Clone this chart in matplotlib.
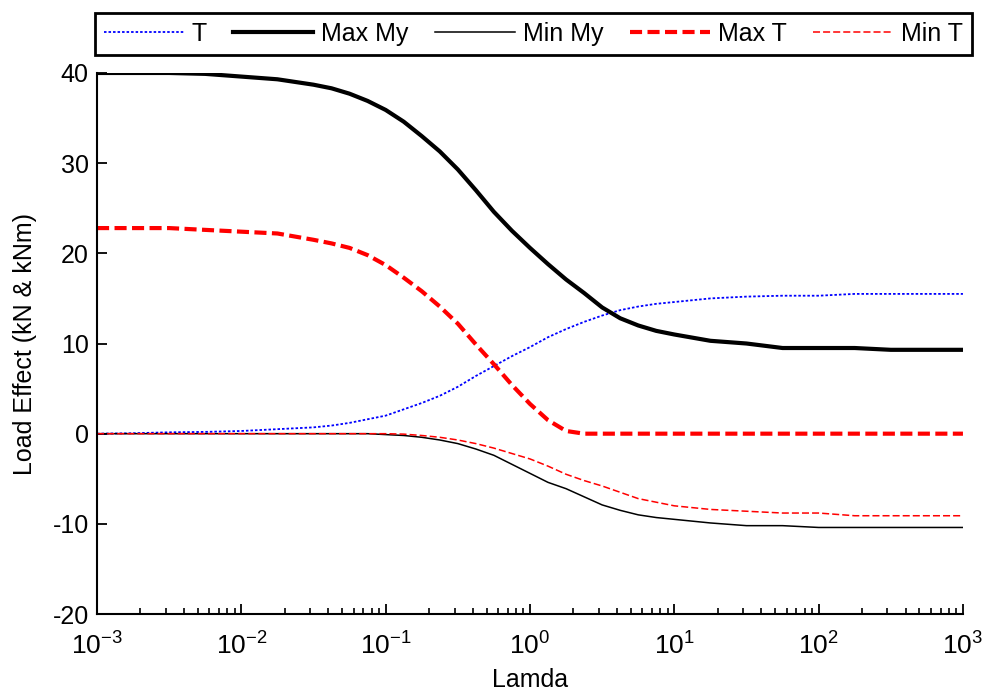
import numpy as np
import matplotlib
matplotlib.use('Agg')
import matplotlib.pyplot as plt
from matplotlib.ticker import LogLocator, FixedLocator

plt.rcParams['font.family'] = ['Liberation Sans', 'DejaVu Sans']
plt.rcParams['axes.unicode_minus'] = False

# lambda grid (log10 positions)
log_lam = [-3, -2.75, -2.5, -2.25, -2, -1.75, -1.5, -1.375, -1.25, -1.125, -1,
           -0.875, -0.75, -0.625, -0.5, -0.375, -0.25, -0.125, 0,
           0.125, 0.25, 0.375, 0.5, 0.625, 0.75, 0.875, 1,
           1.25, 1.5, 1.75, 2, 2.25, 2.5, 2.75, 3]
lam = [10 ** v for v in log_lam]

T = [0, 0.05, 0.15, 0.2, 0.3, 0.5, 0.7, 0.9, 1.2, 1.6, 2.0,
     2.7, 3.4, 4.2, 5.2, 6.4, 7.5, 8.6, 9.6,
     10.7, 11.6, 12.4, 13.1, 13.7, 14.1, 14.4, 14.6,
     15.0, 15.2, 15.3, 15.3, 15.5, 15.5, 15.5, 15.5]
max_my = [40, 40, 40, 39.9, 39.6, 39.3, 38.7, 38.3, 37.7, 36.9, 35.9,
          34.6, 33.0, 31.3, 29.3, 27.0, 24.6, 22.5, 20.6,
          18.8, 17.1, 15.6, 14.0, 12.8, 12.0, 11.4, 11.0,
          10.3, 10.0, 9.5, 9.5, 9.5, 9.3, 9.3, 9.3]
min_my = [0, 0, 0, 0, 0, 0, 0, 0, 0, 0, -0.1,
          -0.2, -0.4, -0.7, -1.1, -1.7, -2.4, -3.4, -4.4,
          -5.4, -6.1, -7.0, -7.9, -8.5, -9.0, -9.3, -9.5,
          -9.9, -10.2, -10.2, -10.4, -10.4, -10.4, -10.4, -10.4]
max_t = [22.8, 22.8, 22.8, 22.6, 22.4, 22.2, 21.5, 21.1, 20.6, 19.8, 18.7,
         17.3, 15.8, 14.1, 12.2, 9.9, 7.7, 5.4, 3.3,
         1.5, 0.3, 0, 0, 0, 0, 0, 0,
         0, 0, 0, 0, 0, 0, 0, 0]
min_t = [0, 0, 0, 0, 0, 0, 0, 0, 0, 0, 0,
         -0.05, -0.2, -0.4, -0.7, -1.1, -1.6, -2.2, -2.8,
         -3.6, -4.5, -5.2, -5.8, -6.5, -7.2, -7.6, -8.0,
         -8.4, -8.6, -8.8, -8.8, -9.1, -9.1, -9.1, -9.1]

fig = plt.figure(figsize=(9.84, 6.95), dpi=100)
ax = fig.add_axes([0.0986, 0.1165, 0.88, 0.7785])

ax.plot(lam, T, color='#0000ff', lw=1.3, dashes=(1.4, 1.1), label='T')
ax.plot(lam, max_my, color='black', lw=3.0, label='Max My')
ax.plot(lam, min_my, color='black', lw=1.1, label='Min My')
ax.plot(lam, max_t, color='#ff0000', lw=3.0, dashes=(2.9, 1.3), label='Max T')
ax.plot(lam, min_t, color='#ff0000', lw=1.1, dashes=(4.6, 2.0), label='Min T')

ax.set_xscale('log')
ax.set_xlim(1e-3, 1e3)
ax.set_ylim(-20, 40)
ax.set_yticks([-20, -10, 0, 10, 20, 30, 40])
ax.xaxis.set_major_locator(FixedLocator([1e-3, 1e-2, 1e-1, 1, 1e1, 1e2, 1e3]))
ax.xaxis.set_minor_locator(LogLocator(base=10, subs=np.arange(2, 10), numticks=20))

for s in ['top', 'right']:
    ax.spines[s].set_visible(False)
for s in ['left', 'bottom']:
    ax.spines[s].set_linewidth(1.5)

ax.tick_params(which='major', direction='in', length=7, width=1.3, labelsize=18)
ax.tick_params(which='minor', direction='in', length=4.5, width=1.2)
ax.tick_params(axis='x', which='major', labelsize=19, pad=13)
ax.tick_params(axis='y', pad=6)

ax.set_xlabel('Lamda', fontsize=18, labelpad=6)
ax.set_ylabel('Load Effect (kN & kNm)', fontsize=18, labelpad=11)

leg = fig.legend(loc='lower left', bbox_to_anchor=(0.0965, 0.921, 0.891, 0.0676),
                 mode='expand', ncol=5, fontsize=18, handlelength=3.2,
                 handletextpad=0.3, borderaxespad=0, fancybox=False,
                 framealpha=1, edgecolor='black', borderpad=0.35)
leg.get_frame().set_linewidth(2)

fig.savefig('out.png', dpi=100)
